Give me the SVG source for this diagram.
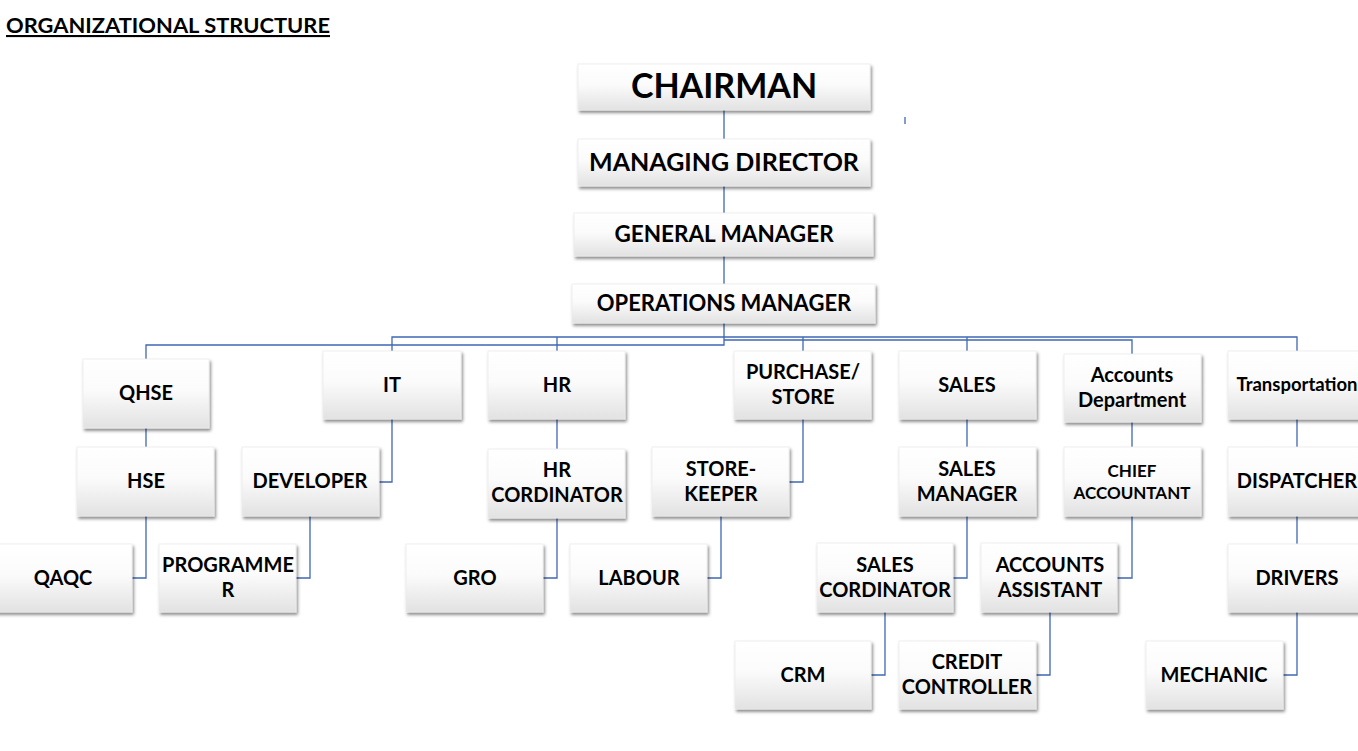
<svg xmlns="http://www.w3.org/2000/svg" width="1358" height="751" viewBox="0 0 1358 751">
<defs>
<linearGradient id="g" x1="0" y1="0" x2="0" y2="1">
<stop offset="0" stop-color="#ffffff"/>
<stop offset="0.45" stop-color="#fbfbfb"/>
<stop offset="1" stop-color="#e2e2e2"/>
</linearGradient>
<filter id="sh" x="-10%" y="-10%" width="125%" height="135%">
<feDropShadow dx="1.5" dy="2.5" stdDeviation="1.5" flood-color="#000" flood-opacity="0.45"/>
</filter>
</defs>
<style>
.b{fill:url(#g);stroke:#ececec;stroke-width:0.8;filter:url(#sh)}
.t{font-family:Lato,"Liberation Sans",sans-serif;font-weight:bold;fill:#000;text-anchor:middle;font-size:20px}
.s{font-size:17px}
.c{fill:none;stroke:#3f67b3;stroke-width:1.3}
</style>
<rect width="1358" height="751" fill="#fff"/>
<text x="6" y="33" textLength="324" lengthAdjust="spacingAndGlyphs" style="font-family:Lato,'Liberation Sans',sans-serif;font-weight:bold;font-size:21px;text-decoration:underline" fill="#000">ORGANIZATIONAL STRUCTURE</text>

<g id="connectors" class="c">
<path d="M724 110V139M724 186V213M724 256V284"/>
<path d="M905 117V124"/>
<path d="M724 323V345H146V359"/>
<path d="M392 351V337H1297V351M557 337V351M803 337V351M967 337V351"/>
<path d="M724 340H1132V354"/>
<path d="M146 428V447M146 516V578H132"/>
<path d="M392 419V482H379M310 516V578H296"/>
<path d="M557 419V449M557 518V578H543"/>
<path d="M803 419V482H789M721 516V578H707"/>
<path d="M967 419V447M967 516V578H953M885 612V675H871"/>
<path d="M1132 422V447M1132 516V578H1117M1050 612V675H1036"/>
<path d="M1297 419V447M1297 516V544M1297 612V675H1283"/>
</g>

<g id="chairman"><rect class="b" x="578" y="64" width="292" height="46"/><text class="t" x="724" y="98" style="font-size:34px">CHAIRMAN</text></g>
<g id="managing-director"><rect class="b" x="578" y="139" width="292" height="47"/><text class="t" x="724" y="171" style="font-size:25px">MANAGING DIRECTOR</text></g>
<g id="general-manager"><rect class="b" x="574" y="213" width="299" height="43"/><text class="t" x="724" y="242" style="font-size:22.5px">GENERAL MANAGER</text></g>
<g id="operations-manager"><rect class="b" x="572" y="284" width="303" height="39"/><text class="t" x="724" y="311" style="font-size:22px">OPERATIONS MANAGER</text></g>

<g id="qhse"><rect class="b" x="83" y="359" width="126" height="69"/><text class="t" x="146" y="400">QHSE</text></g>
<g id="it"><rect class="b" x="323" y="351" width="138" height="68"/><text class="t" x="392" y="392">IT</text></g>
<g id="hr"><rect class="b" x="488" y="351" width="137" height="68"/><text class="t" x="557" y="392">HR</text></g>
<g id="purchase-store"><rect class="b" x="734" y="351" width="137" height="68"/><text class="t" x="803" y="379">PURCHASE/</text><text class="t" x="803" y="404">STORE</text></g>
<g id="sales"><rect class="b" x="899" y="351" width="137" height="68"/><text class="t" x="967" y="392">SALES</text></g>
<g id="accounts-department"><rect class="b" x="1064" y="354" width="137" height="68"/><text class="t" x="1132" y="382">Accounts</text><text class="t" x="1132" y="407">Department</text></g>
<g id="transportation"><rect class="b" x="1228" y="351" width="138" height="68"/><text class="t" x="1297" y="391" style="font-size:18.5px">Transportation</text></g>

<g id="hse"><rect class="b" x="77" y="447" width="137" height="69"/><text class="t" x="146" y="488">HSE</text></g>
<g id="developer"><rect class="b" x="242" y="447" width="137" height="69"/><text class="t" x="310" y="488">DEVELOPER</text></g>
<g id="hr-cordinator"><rect class="b" x="488" y="449" width="137" height="69"/><text class="t" x="557" y="477">HR</text><text class="t" x="557" y="502">CORDINATOR</text></g>
<g id="store-keeper"><rect class="b" x="652" y="447" width="137" height="69"/><text class="t" x="721" y="476">STORE-</text><text class="t" x="721" y="501">KEEPER</text></g>
<g id="sales-manager"><rect class="b" x="899" y="447" width="137" height="69"/><text class="t" x="967" y="476">SALES</text><text class="t" x="967" y="501">MANAGER</text></g>
<g id="chief-accountant"><rect class="b" x="1064" y="447" width="137" height="69"/><text class="t s" x="1132" y="477">CHIEF</text><text class="t s" x="1132" y="499">ACCOUNTANT</text></g>
<g id="dispatcher"><rect class="b" x="1228" y="447" width="138" height="69"/><text class="t" x="1297" y="488">DISPATCHER</text></g>

<g id="qaqc"><rect class="b" x="-5" y="544" width="137" height="68"/><text class="t" x="63" y="585">QAQC</text></g>
<g id="programmer"><rect class="b" x="159" y="544" width="137" height="68"/><text class="t" x="228" y="572">PROGRAMME</text><text class="t" x="228" y="597">R</text></g>
<g id="gro"><rect class="b" x="406" y="544" width="137" height="68"/><text class="t" x="475" y="585">GRO</text></g>
<g id="labour"><rect class="b" x="570" y="544" width="137" height="68"/><text class="t" x="639" y="585">LABOUR</text></g>
<g id="sales-cordinator"><rect class="b" x="817" y="543" width="136" height="69"/><text class="t" x="885" y="572">SALES</text><text class="t" x="885" y="597">CORDINATOR</text></g>
<g id="accounts-assistant"><rect class="b" x="981" y="543" width="136" height="69"/><text class="t" x="1050" y="572">ACCOUNTS</text><text class="t" x="1050" y="597">ASSISTANT</text></g>
<g id="drivers"><rect class="b" x="1228" y="544" width="138" height="68"/><text class="t" x="1297" y="585">DRIVERS</text></g>

<g id="crm"><rect class="b" x="735" y="641" width="136" height="68"/><text class="t" x="803" y="682">CRM</text></g>
<g id="credit-controller"><rect class="b" x="899" y="641" width="137" height="68"/><text class="t" x="967" y="669">CREDIT</text><text class="t" x="967" y="694">CONTROLLER</text></g>
<g id="mechanic"><rect class="b" x="1146" y="641" width="137" height="68"/><text class="t" x="1214" y="682">MECHANIC</text></g>
</svg>
